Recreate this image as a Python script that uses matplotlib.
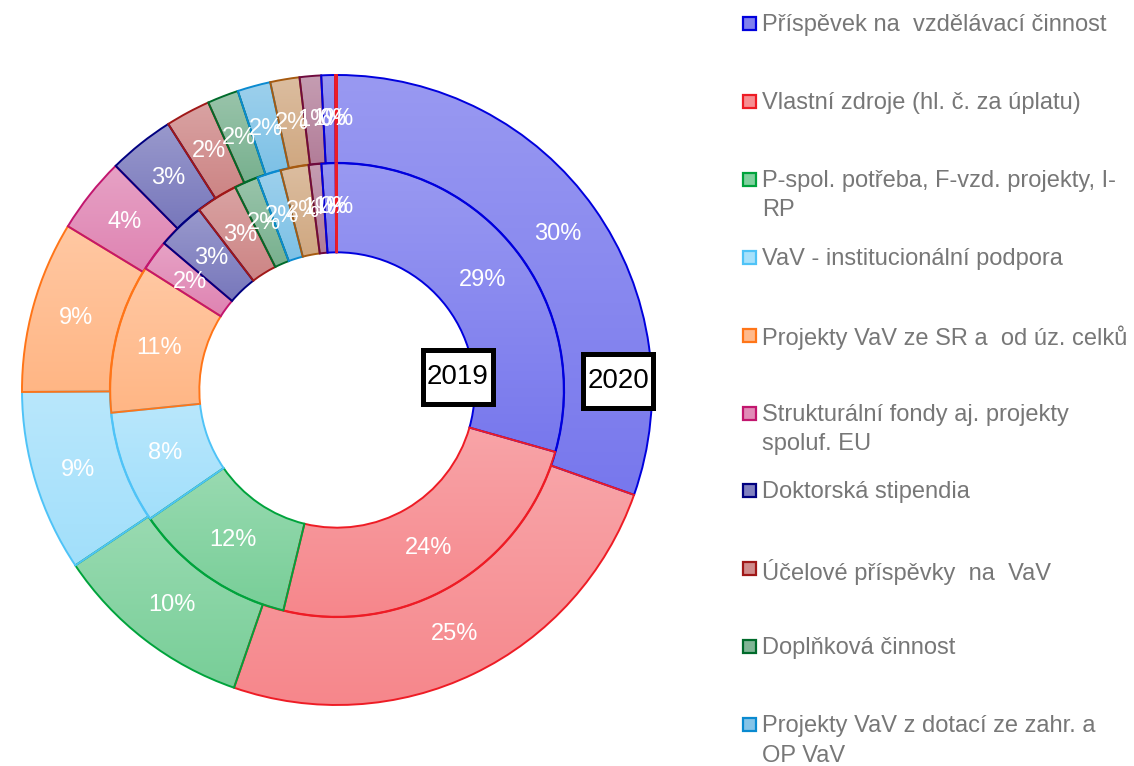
import numpy as np
import matplotlib.pyplot as plt
from matplotlib.colors import to_rgb
from matplotlib.patches import Rectangle

plt.rcParams['font.family'] = ['Liberation Sans', 'DejaVu Sans']

# ---------------------------------------
# Data
# ---------------------------------------

years = ["2019", "2020"]

legend_labels = [
    "Příspěvek na  vzdělávací činnost",
    "Vlastní zdroje (hl. č. za úplatu)",
    "P-spol. potřeba, F-vzd. projekty, I-\nRP",
    "VaV - institucionální podpora",
    "Projekty VaV ze SR a  od úz. celků",
    "Strukturální fondy aj. projekty\nspoluf. EU",
    "Doktorská stipendia",
    "Účelové příspěvky  na  VaV",
    "Doplňková činnost",
    "Projekty VaV z dotací ze zahr. a\nOP VaV",
]

# shares in %, same order as the legend (last items are below the visible legend)
share_2019 = [29.4, 24.4, 11.6, 8.0, 10.6, 2.2, 3.4, 3.0, 1.7, 1.7, 2.0, 0.9, 1.0, 0.1]
share_2020 = [30.4, 24.9, 10.3, 9.3, 8.8, 3.9, 3.4, 2.3, 1.6, 1.7, 1.5, 1.1, 0.7, 0.1]

edge_colors = [
    "#0000DD", "#EE1C25", "#00A33C", "#4FC3F7", "#FF7518", "#C2166E",
    "#000080", "#A01818", "#006B2B", "#0A8AD0", "#A65A10", "#6E0A3E",
    "#0000DD", "#EE1C25",
]


def blend(color, white):
    c = np.array(to_rgb(color))
    return c * (1 - white) + white


def shade(ax, wedge, color):
    # vertical gradient inside one wedge, lighter on top
    x0, y0, x1, y1 = wedge.get_path().get_extents().extents
    top = blend(color, 0.6)
    bot = blend(color, 0.47)
    t = np.linspace(0, 1, 64)[:, None, None]
    img = np.repeat(bot + t * (top - bot), 2, axis=1)
    im = ax.imshow(img, extent=[x0, x1, y0, y1], origin="lower",
                   aspect="auto", zorder=0.5, interpolation="bilinear")
    im.set_clip_path(wedge)
    wedge.set_facecolor("none")


# ---------------------------------------
# Plot
# ---------------------------------------

fig = plt.figure(figsize=(11.34, 7.66), dpi=100)
ax = fig.add_axes([22 / 1134, 61 / 766, 630 / 1134, 630 / 766])

rings = [
    (share_2020, 1.0, 0.279, 0.86),
    (share_2019, 0.72, 0.283, 0.58 / 0.72),
]

for values, radius, width, pctdist in rings:
    wedges, texts, autotexts = ax.pie(
        values,
        radius=radius,
        startangle=90,
        counterclock=False,
        autopct="%.0f%%",
        pctdistance=pctdist,
        wedgeprops=dict(width=width, linewidth=1.4),
        textprops=dict(color="white", fontsize=17),
    )
    for w, c in zip(wedges, edge_colors):
        w.set_edgecolor(c)
        shade(ax, w, c)

# year tags: white boxes with thick black frame
year_pos = [(0.384, 0.041), (0.893, 0.029)]
bw, bh = 0.222, 0.172
for year, (x, y) in zip(years, year_pos):
    ax.add_patch(Rectangle((x - bw / 2, y - bh / 2), bw, bh,
                           facecolor="white", edgecolor="black",
                           linewidth=3.6, zorder=4, clip_on=False))
    ax.text(x, y, year, ha="center", va="center",
            fontsize=20, color="black", zorder=5, clip_on=False)

ax.set_xlim(-1, 1)
ax.set_ylim(-1, 1)
ax.set_aspect("equal")
ax.axis("off")

# ---------------------------------------
# Legend (fixed slots)
# ---------------------------------------

W, H = 1134, 766
for i, label in enumerate(legend_labels):
    y_px = 23 + 77.9 * i
    c = edge_colors[i]
    fig.patches.append(Rectangle(
        (743 / W, (H - y_px - 7) / H), 13 / W, 13 / H,
        transform=fig.transFigure, facecolor=blend(c, 0.5),
        edgecolor=c, linewidth=1.6))
    fig.text(762 / W, (H - y_px + 9) / H, label, ha="left", va="top",
             fontsize=17, color="#777777", linespacing=1.45)

fig.savefig("out.png", dpi=100)
